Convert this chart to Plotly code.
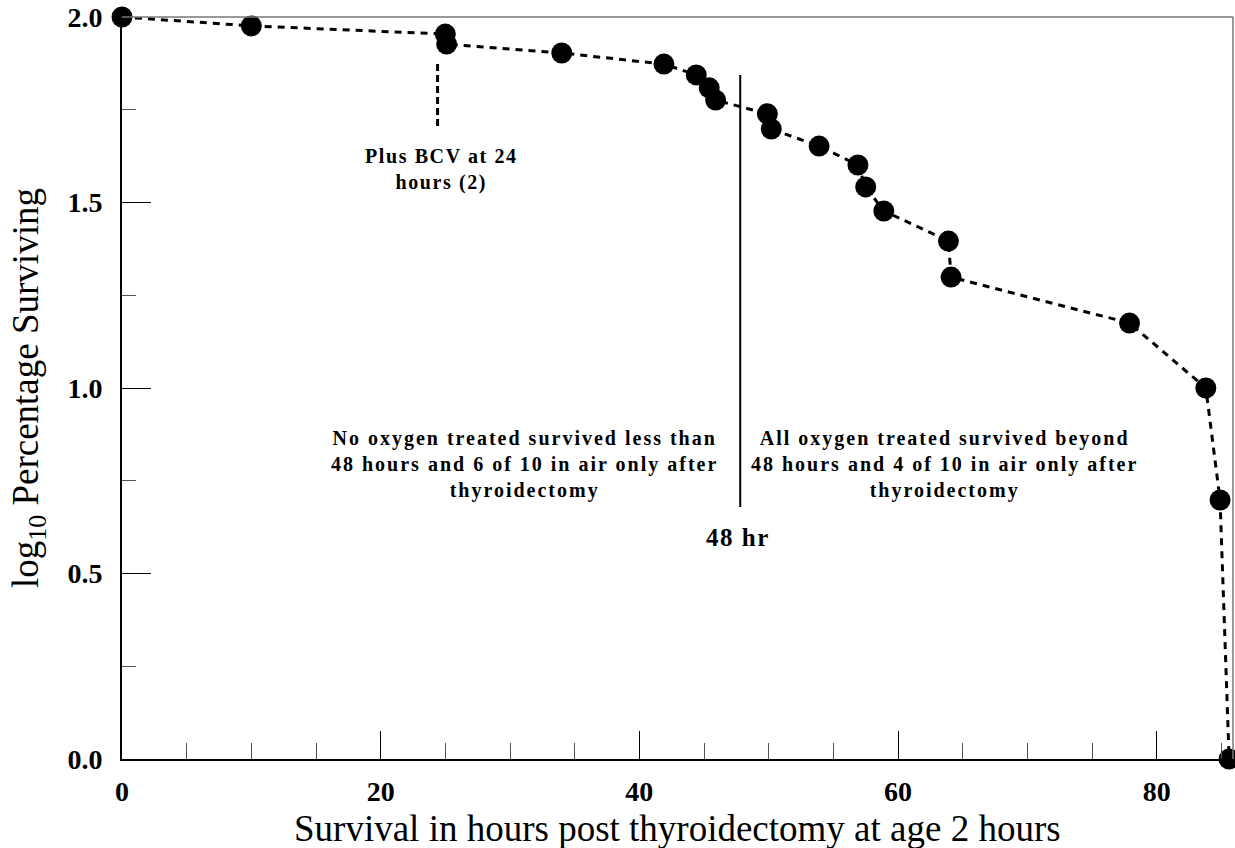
import plotly.graph_objects as go

hours = [0, 10, 25, 25.1, 34, 41.9, 44.4, 45.4, 45.9, 49.9, 50.2, 53.9, 56.9, 57.5,
         58.9, 63.9, 64.1, 77.9, 83.8, 84.9, 85.6]
log_surv = [2.0, 1.976, 1.954, 1.927, 1.903, 1.873, 1.844, 1.809, 1.776, 1.739, 1.698,
            1.652, 1.601, 1.542, 1.477, 1.396, 1.299, 1.175, 1.0, 0.698, 0.0]

x_ticks = [0, 20, 40, 60, 80]
y_ticks = [0.0, 0.5, 1.0, 1.5, 2.0]
y_tick_labels = ["0.0", "0.5", "1.0", "1.5", "2.0"]

bcv_hour = 24.4
split_hour = 47.8

FONT = "Liberation Serif"


def spaced(text, px):
    lines = text.split("<br>")
    return "<br>".join(f'<span style="letter-spacing:{px}px">{ln}</span>' for ln in lines)


fig = go.Figure()
fig.add_trace(go.Scatter(
    x=hours, y=log_surv, mode="lines+markers",
    line=dict(color="black", width=3, dash="7px,6px"),
    marker=dict(color="black", size=21),
    cliponaxis=False, showlegend=False,
))

# BCV dashed marker line
fig.add_shape(type="line", x0=bcv_hour, x1=bcv_hour, y0=1.706, y1=1.884,
              line=dict(color="black", width=3, dash="7px,4px"))
# 48 hr solid line
fig.add_shape(type="line", x0=split_hour, x1=split_hour, y0=0.679, y1=1.844,
              line=dict(color="black", width=2))
# top & right frame
fig.add_shape(type="line", xref="paper", yref="paper", x0=0, x1=1, y0=1, y1=1,
              line=dict(color="#777777", width=1.5))
fig.add_shape(type="line", xref="paper", yref="paper", x0=1, x1=1, y0=0, y1=1,
              line=dict(color="#777777", width=1.5))

bold = dict(family=FONT, size=20, color="black", weight="bold")
fig.add_annotation(x=24.7, y=1.59, text=spaced("Plus BCV at 24<br>hours (2)", 1.6),
                   showarrow=False, font=bold, align="center")
fig.add_annotation(x=31.1, y=0.795,
                   text=spaced("No oxygen treated survived less than<br>48 hours and 6 of 10 in air only after<br>thyroidectomy", 2),
                   showarrow=False, font=bold, align="center")
fig.add_annotation(x=63.6, y=0.795,
                   text=spaced("All oxygen treated survived beyond<br>48 hours and 4 of 10 in air only after<br>thyroidectomy", 2),
                   showarrow=False, font=bold, align="center")
fig.add_annotation(x=47.6, y=0.598, text=spaced("48 hr", 1.5), showarrow=False,
                   font=dict(family=FONT, size=25, color="black", weight="bold"))

# axis titles
fig.add_annotation(xref="paper", yref="paper", x=0, y=0.5, xshift=-94, textangle=-90,
                   xanchor="center", yanchor="middle",
                   text="log<sub>10</sub> Percentage Surviving", showarrow=False,
                   font=dict(family=FONT, size=37, color="black"))
fig.add_annotation(xref="paper", yref="paper", x=0.5, y=0, yshift=-69,
                   xanchor="center", yanchor="middle",
                   text="Survival in hours post thyroidectomy at age 2 hours", showarrow=False,
                   font=dict(family=FONT, size=37, color="black"))

fig.update_xaxes(range=[0, 85.9], tickvals=x_ticks, ticks="inside", ticklen=28,
                 tickcolor="black", tickwidth=1, showgrid=False, zeroline=False,
                 showline=True, linecolor="black", linewidth=2,
                 tickfont=dict(family=FONT, size=28, color="black", weight="bold"),
                 ticklabelstandoff=6,
                 minor=dict(tickvals=[5, 10, 15, 25, 30, 35, 45, 50, 55, 65, 70, 75, 85],
                            ticks="inside", ticklen=16, tickcolor="#555555", tickwidth=1),
                 automargin=False)
fig.update_yaxes(range=[0, 2.0], tickvals=y_ticks, ticktext=y_tick_labels, ticks="inside",
                 ticklen=29, tickcolor="black", tickwidth=1, showgrid=False, zeroline=False,
                 showline=True, linecolor="black", linewidth=2,
                 tickfont=dict(family=FONT, size=28, color="black", weight="bold"),
                 ticklabelstandoff=12,
                 minor=dict(tickvals=[0.25, 0.75, 1.25, 1.75], ticks="inside", ticklen=14,
                            tickcolor="#555555", tickwidth=1),
                 automargin=False)

fig.update_layout(width=1235, height=848, margin=dict(l=122, r=2, t=17, b=89),
                  plot_bgcolor="white", paper_bgcolor="white")

fig.write_html("out.html", config={"displayModeBar": False},
               post_script="document.body.style.margin='0';")
